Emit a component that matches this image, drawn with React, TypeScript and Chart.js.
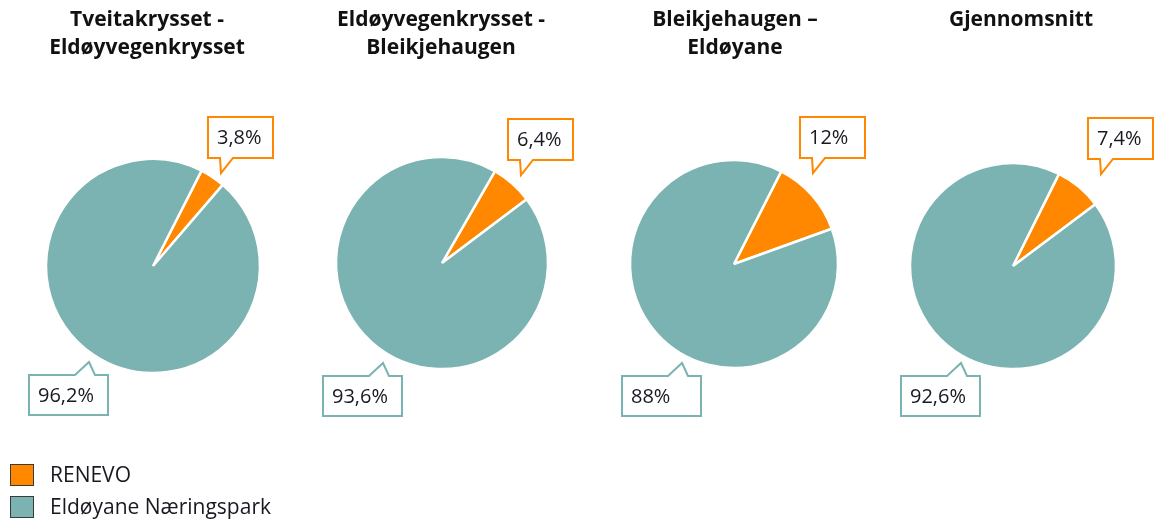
import { useEffect, useRef } from "react";
import { Chart, registerables } from "chart.js";

Chart.register(...registerables);

// ---------- data ----------
const chartTitles: string[][] = [
  ["Tveitakrysset -", "Eldøyvegenkrysset"],
  ["Eldøyvegenkrysset -", "Bleikjehaugen"],
  ["Bleikjehaugen –", "Eldøyane"],
  ["Gjennomsnitt"],
];
const seriesNames = ["RENEVO", "Eldøyane Næringspark"];
const renevoValues = [3.8, 6.4, 12, 7.4];
const eldoyaneValues = [96.2, 93.6, 88, 92.6];

// ---------- styles / layout ----------
const sliceColors = ["#FF8800", "#7AB3B1"];
const centersX = [153, 442, 734, 1013];
const centersY = [266, 263, 264, 266];
const radii = [107, 106, 104, 103];
const rotations = [27, 30, 27, 26.5];
const titleCentersX = [147, 441, 735, 1021];
const orangeBoxPos = [
  [55, 117],
  [66, 119],
  [66, 117],
  [75, 118],
];
const tealBoxPos = [
  [-124, 375],
  [-119, 376],
  [-112, 376],
  [-112, 376],
];
const CANVAS_W = 290;
const CANVAS_H = 522;
const PAD_BOTTOM = 62;

const fmt = (v: number) => String(v).replace(".", ",") + "%";

function drawCallout(
  ctx: CanvasRenderingContext2D,
  x: number,
  y: number,
  w: number,
  h: number,
  down: boolean,
  p1: number,
  p2: number,
  tipX: number,
  tipLen: number,
  color: string,
  text: string
) {
  ctx.save();
  ctx.beginPath();
  if (down) {
    ctx.moveTo(x, y);
    ctx.lineTo(x + w, y);
    ctx.lineTo(x + w, y + h);
    ctx.lineTo(x + p2, y + h);
    ctx.lineTo(x + tipX, y + h + tipLen);
    ctx.lineTo(x + p1, y + h);
    ctx.lineTo(x, y + h);
  } else {
    ctx.moveTo(x, y + h);
    ctx.lineTo(x, y);
    ctx.lineTo(x + p1, y);
    ctx.lineTo(x + tipX, y - tipLen);
    ctx.lineTo(x + p2, y);
    ctx.lineTo(x + w, y);
    ctx.lineTo(x + w, y + h);
  }
  ctx.closePath();
  ctx.fillStyle = "#ffffff";
  ctx.fill();
  ctx.lineWidth = 2;
  ctx.strokeStyle = color;
  ctx.lineJoin = "miter";
  ctx.stroke();
  ctx.fillStyle = "#181820";
  ctx.font = '20px "Open Sans"';
  ctx.textAlign = "left";
  ctx.textBaseline = "middle";
  ctx.fillText(text, x + 9, y + h / 2 + 1);
  ctx.restore();
}

const overlayPlugin = {
  id: "overlay",
  afterDraw(chart: any) {
    const idx: number = chart.options.plugins.overlay.index;
    const ctx: CanvasRenderingContext2D = chart.ctx;
    const left = centersX[idx] - CANVAS_W / 2;

    // title
    ctx.save();
    ctx.fillStyle = "#111111";
    ctx.font = 'bold 21px "Open Sans"';
    ctx.textAlign = "center";
    ctx.textBaseline = "middle";
    chartTitles[idx].forEach((line, i) => {
      ctx.fillText(line, titleCentersX[idx] - left, 20 + i * 28);
    });
    ctx.restore();

    // callouts
    const meta = chart.getDatasetMeta(0);
    const arc = meta.data[0];
    const cx = arc.x;
    const ob = orangeBoxPos[idx];
    drawCallout(ctx, cx + ob[0], ob[1], 65, 41, true, 12, 25, 13, 15, sliceColors[0], fmt(renevoValues[idx]));
    const tb = tealBoxPos[idx];
    drawCallout(ctx, cx + tb[0], tb[1], 79, 40, false, 46, 66, 60, 13, sliceColors[1], fmt(eldoyaneValues[idx]));

    // legend (first chart only)
    if (idx === 0) {
      ctx.save();
      const lx = 10 - left;
      seriesNames.forEach((name, i) => {
        const y = 464 + i * 32;
        ctx.fillStyle = sliceColors[i];
        ctx.fillRect(lx, y, 24, 22);
        ctx.lineWidth = 1;
        ctx.strokeStyle = "#3a3a3a";
        ctx.strokeRect(lx + 0.5, y + 0.5, 23, 21);
        ctx.fillStyle = "#181820";
        ctx.font = '21px "Open Sans"';
        ctx.textAlign = "left";
        ctx.textBaseline = "middle";
        ctx.fillText(name, 50 - left, y + 12);
      });
      ctx.restore();
    }
  },
};

function PieChart({ index }: { index: number }) {
  const ref = useRef<HTMLCanvasElement | null>(null);
  useEffect(() => {
    if (!ref.current) return;
    const padTop = 2 * centersY[index] - (CANVAS_H - PAD_BOTTOM);
    const chart = new Chart(ref.current, {
      type: "pie",
      data: {
        labels: seriesNames,
        datasets: [
          {
            data: [renevoValues[index], eldoyaneValues[index]],
            backgroundColor: sliceColors,
            borderColor: "#ffffff",
            borderWidth: 2.5,
            radius: radii[index],
          } as any,
        ],
      },
      options: {
        responsive: false,
        animation: false,
        events: [],
        rotation: rotations[index],
        layout: { padding: { top: padTop, bottom: PAD_BOTTOM, left: 0, right: 0 } },
        plugins: {
          legend: { display: false },
          tooltip: { enabled: false },
          title: { display: false },
          overlay: { index },
        } as any,
      },
      plugins: [overlayPlugin],
    });
    return () => chart.destroy();
  }, [index]);
  return (
    <canvas
      ref={ref}
      width={CANVAS_W}
      height={CANVAS_H}
      style={{
        position: "absolute",
        left: centersX[index] - CANVAS_W / 2,
        top: 0,
        width: CANVAS_W,
        height: CANVAS_H,
      }}
    />
  );
}

export default function App() {
  return (
    <div
      style={{
        position: "absolute",
        left: 0,
        top: 0,
        width: 1154,
        height: 522,
        overflow: "hidden",
        background: "#ffffff",
      }}
    >
      {renevoValues.map((_, i) => (
        <PieChart key={i} index={i} />
      ))}
    </div>
  );
}
